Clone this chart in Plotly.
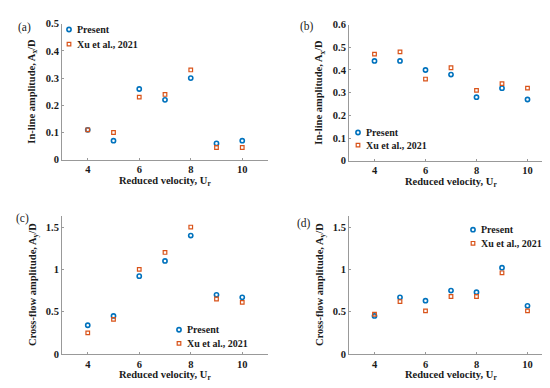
import plotly.graph_objects as go

ur = [4, 5, 6, 7, 8, 9, 10]

a_present = [0.11, 0.07, 0.26, 0.22, 0.30, 0.06, 0.07]
a_xu = [0.11, 0.10, 0.23, 0.24, 0.33, 0.045, 0.045]
b_present = [0.44, 0.44, 0.40, 0.38, 0.28, 0.32, 0.27]
b_xu = [0.47, 0.48, 0.36, 0.41, 0.31, 0.34, 0.32]
c_present = [0.34, 0.45, 0.92, 1.10, 1.40, 0.70, 0.67]
c_xu = [0.25, 0.41, 1.00, 1.20, 1.50, 0.65, 0.61]
d_present = [0.45, 0.67, 0.63, 0.75, 0.73, 1.02, 0.57]
d_xu = [0.47, 0.62, 0.51, 0.68, 0.68, 0.96, 0.51]

series_names = ["Present", "Xu et al., 2021"]
panel_labels = ["(a)", "(b)", "(c)", "(d)"]
x_title = "Reduced velocity, U<sub>r</sub>"
y_titles = ["In-line amplitude, A<sub>x</sub>/D", "In-line amplitude, A<sub>x</sub>/D",
            "Cross-flow amplitude, A<sub>y</sub>/D", "Cross-flow amplitude, A<sub>y</sub>/D"]
x_ticks = [4, 6, 8, 10]
y_ticks = [[0, 0.1, 0.2, 0.3, 0.4, 0.5],
           [0, 0.1, 0.2, 0.3, 0.4, 0.5, 0.6],
           [0, 0.5, 1, 1.5],
           [0, 0.5, 1, 1.5]]
y_ranges = [[0, 0.5], [0, 0.6], [0, 1.63], [0, 1.63]]

BLUE = "#0072BD"
ORANGE = "#D95319"
FONT = "Liberation Serif"
TXT = "#1a1a1a"
W, H = 550, 388

# pixel boxes: (left, right, top, bottom)
boxes = [(54, 260, 11, 151), (341, 545, 12, 152), (54, 260, 209, 351), (341, 545, 209, 351)]
# legend positions: (marker x, y first row, y second row)
legends = [(61, 17, 32), (350, 123, 136), (171, 326, 340), (465, 223, 237)]
label_pos = [(16, 15), (299, 14), (14, 211), (296, 217)]

data = [(a_present, a_xu), (b_present, b_xu), (c_present, c_xu), (d_present, d_xu)]

CIRC = dict(symbol="circle-open", size=4.2, color=BLUE, line=dict(width=1.6))
SQR = dict(symbol="square-open", size=3.6, color=ORANGE, line=dict(width=1.2))

fig = go.Figure()
annotations = []
layout = {}
bold = dict(family=FONT, size=10, color=TXT, weight="bold")
for i, ((p, x), box) in enumerate(zip(data, boxes)):
    n = "" if i == 0 else str(i + 1)
    xa, ya = "x" + n, "y" + n
    fig.add_trace(go.Scatter(x=ur, y=p, mode="markers", name=series_names[0], xaxis=xa, yaxis=ya,
                             marker=CIRC, showlegend=False))
    fig.add_trace(go.Scatter(x=ur, y=x, mode="markers", name=series_names[1], xaxis=xa, yaxis=ya,
                             marker=SQR, showlegend=False))
    l, r, t, b = box
    common = dict(showgrid=False, zeroline=False, showline=True, linecolor="#999999", linewidth=1,
                  ticks="inside", ticklen=2, tickcolor="#999999", mirror=False,
                  tickfont=dict(family=FONT, size=10.5, color=TXT, weight="bold"))
    layout["xaxis" + n] = dict(common, domain=[l / W, r / W], range=[3, 11], tickvals=x_ticks,
                               anchor=ya)
    layout["yaxis" + n] = dict(common, domain=[1 - b / H, 1 - t / H], range=y_ranges[i],
                               tickvals=y_ticks[i], anchor=xa)
    cx = (l + r) / 2
    annotations.append(dict(text=x_title, x=cx / W, y=1 - (b + 22) / H, xref="paper", yref="paper",
                            showarrow=False, font=dict(bold, size=10.5),
                            xanchor="center", yanchor="middle"))
    annotations.append(dict(text=y_titles[i], x=(l - 29) / W, y=1 - ((t + b) / 2) / H, xref="paper",
                            yref="paper", showarrow=False, textangle=-90,
                            font=dict(bold, size=10.5),
                            xanchor="center", yanchor="middle"))
    lx, ly = label_pos[i]
    annotations.append(dict(text=panel_labels[i], x=lx / W, y=1 - ly / H, xref="paper", yref="paper",
                            showarrow=False, font=dict(family=FONT, size=11.5, color=TXT),
                            xanchor="center", yanchor="middle"))
    mx, y1, y2 = legends[i]
    for j, yy in enumerate([y1, y2]):
        annotations.append(dict(text=series_names[j], x=(mx + 6) / W, y=1 - yy / H, xref="paper",
                                yref="paper", showarrow=False, font=dict(bold, size=10),
                                xanchor="left", yanchor="middle"))
    legx = "x" + str(i + 5)
    legy = "y" + str(i + 5)
    layout["xaxis" + str(i + 5)] = dict(domain=[0, 1], range=[0, W], visible=False, anchor=legy,
                                        fixedrange=True)
    layout["yaxis" + str(i + 5)] = dict(domain=[0, 1], range=[H, 0], visible=False, anchor=legx,
                                        fixedrange=True)
    fig.add_trace(go.Scatter(x=[mx], y=[y1], mode="markers", xaxis=legx, yaxis=legy, showlegend=False,
                             hoverinfo="skip", marker=CIRC))
    fig.add_trace(go.Scatter(x=[mx], y=[y2], mode="markers", xaxis=legx, yaxis=legy, showlegend=False,
                             hoverinfo="skip", marker=SQR))

fig.update_layout(width=W, height=H, margin=dict(l=0, r=0, t=0, b=0), paper_bgcolor="white",
                  plot_bgcolor="rgba(0,0,0,0)", showlegend=False, annotations=annotations,
                  font=dict(family=FONT, color=TXT), **layout)
fig.write_html("out.html")
